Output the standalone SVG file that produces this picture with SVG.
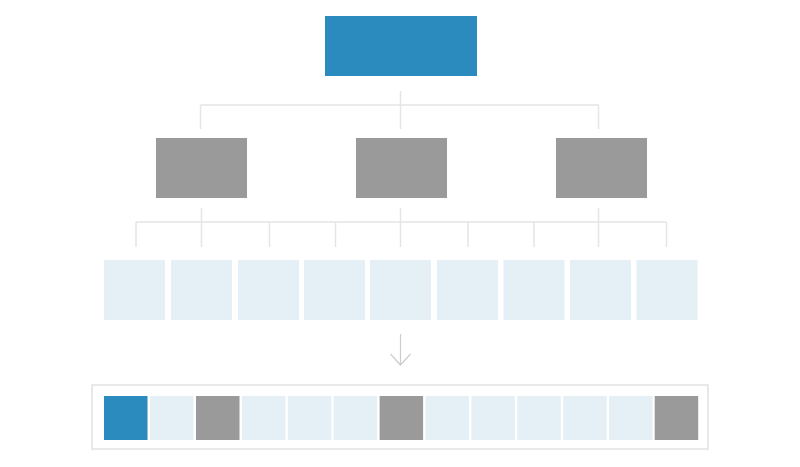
<svg xmlns="http://www.w3.org/2000/svg" width="800" height="467" viewBox="0 0 800 467">
<style>
.blue{fill:#2b8abe}
.gray{fill:#9a9a9a}
.light{fill:#e4eff6}
.ln{stroke:#e5e5e5;stroke-width:1.5;fill:none}
.arr{stroke:#cccccc;stroke-width:1.2;fill:none}
.frame{fill:#ffffff;stroke:#e2e2e2;stroke-width:1.5}
</style>
<rect width="800" height="467" fill="#ffffff"/>
<g id="connectors">
<path class="ln" d="M400.5 91V129M200.5 105H598.5M200.5 105V129M598.5 105V129"/>
<path class="ln" d="M201.5 208V222M400.5 208V222M598.5 208V222M136 222H666.5"/>
<path class="ln" d="M136 222V247M201.5 222V247M269.5 222V247M335.5 222V247M400.5 222V247M468 222V247M534 222V247M598.5 222V247M666.5 222V247"/>
<path class="arr" d="M400.5 334V365M390.5 354L400.5 365L410.5 354"/>
</g>
<g id="root"><rect class="blue" x="325" y="16" width="152" height="60"/></g>
<g id="mid1"><rect class="gray" x="156" y="138" width="91" height="60"/></g>
<g id="mid2"><rect class="gray" x="356" y="138" width="91" height="60"/></g>
<g id="mid3"><rect class="gray" x="556" y="138" width="91" height="60"/></g>
<g id="leaf1"><rect class="light" x="104" y="260" width="61" height="60"/></g>
<g id="leaf2"><rect class="light" x="171" y="260" width="61" height="60"/></g>
<g id="leaf3"><rect class="light" x="238" y="260" width="61" height="60"/></g>
<g id="leaf4"><rect class="light" x="304" y="260" width="61" height="60"/></g>
<g id="leaf5"><rect class="light" x="370" y="260" width="61" height="60"/></g>
<g id="leaf6"><rect class="light" x="437" y="260" width="61" height="60"/></g>
<g id="leaf7"><rect class="light" x="503.5" y="260" width="61" height="60"/></g>
<g id="leaf8"><rect class="light" x="570" y="260" width="61" height="60"/></g>
<g id="leaf9"><rect class="light" x="636.5" y="260" width="61" height="60"/></g>
<g id="array">
<rect class="frame" x="92" y="385" width="616" height="64"/>
<rect class="blue" x="104" y="396" width="43.5" height="44"/>
<rect class="light" x="150" y="396" width="43.5" height="44"/>
<rect class="gray" x="196" y="396" width="43.5" height="44"/>
<rect class="light" x="242" y="396" width="43.5" height="44"/>
<rect class="light" x="287.8" y="396" width="43.5" height="44"/>
<rect class="light" x="333.7" y="396" width="43.5" height="44"/>
<rect class="gray" x="379.6" y="396" width="43.5" height="44"/>
<rect class="light" x="425.5" y="396" width="43.5" height="44"/>
<rect class="light" x="471.4" y="396" width="43.5" height="44"/>
<rect class="light" x="517.3" y="396" width="43.5" height="44"/>
<rect class="light" x="563.2" y="396" width="43.5" height="44"/>
<rect class="light" x="609.1" y="396" width="43.5" height="44"/>
<rect class="gray" x="654.7" y="396" width="43.5" height="44"/>
</g>
</svg>
